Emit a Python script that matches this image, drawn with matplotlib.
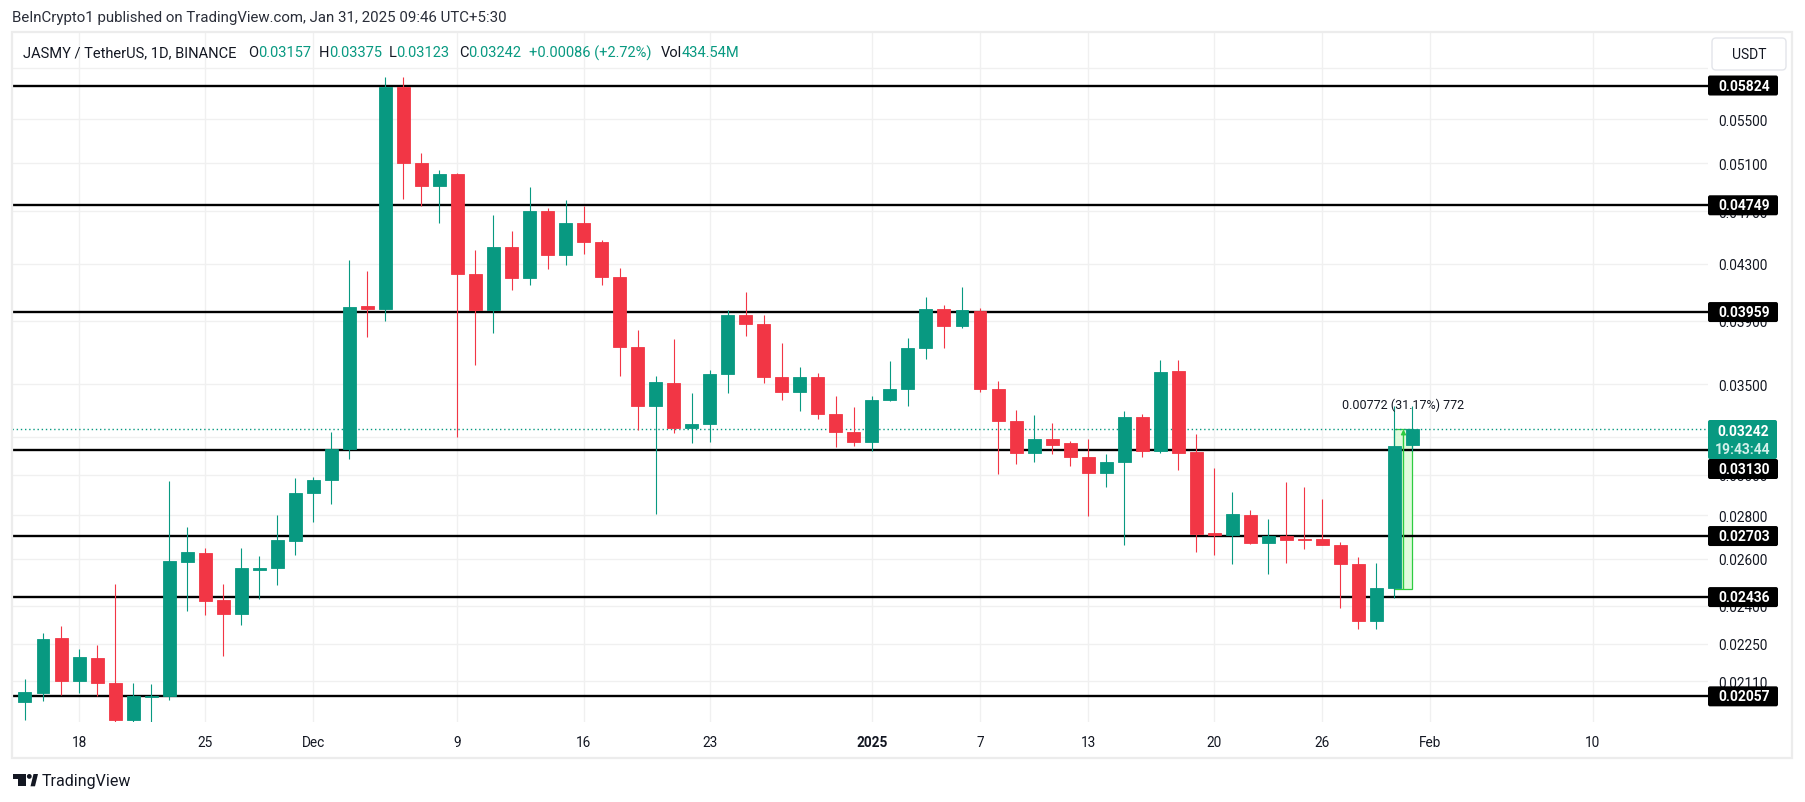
import numpy as np
import pandas as pd
import matplotlib
matplotlib.use("Agg")
import matplotlib.pyplot as plt
from matplotlib.patches import Rectangle, FancyBboxPatch, Polygon, Circle
from matplotlib.transforms import Affine2D
from matplotlib.ticker import NullLocator

plt.rcParams['font.family'] = ['Roboto', 'DejaVu Sans']

# ---------------- data ----------------
start_date = "2024-11-15"
opens = [0.02036, 0.02070, 0.02272, 0.02110, 0.02196, 0.02105, 0.01977, 0.02055, 0.02058, 0.02588,
         0.02625, 0.02423, 0.02368, 0.02551, 0.02560, 0.02682, 0.02909, 0.02972, 0.03136, 0.03998,
         0.03982, 0.05807, 0.05103, 0.04911, 0.05010, 0.04221, 0.03976, 0.04422, 0.04193, 0.04700,
         0.04361, 0.04609, 0.04458, 0.04205, 0.03728, 0.03372, 0.03509, 0.03252, 0.03272, 0.03564,
         0.03941, 0.03877, 0.03546, 0.03453, 0.03546, 0.03325, 0.03226, 0.03172, 0.03409, 0.03473,
         0.03726, 0.03982, 0.03868, 0.03965, 0.03473, 0.03291, 0.03116, 0.03190, 0.03165, 0.03091,
         0.03010, 0.03068, 0.03310, 0.03122, 0.03581, 0.03120, 0.02718, 0.02708, 0.02802, 0.02672,
         0.02704, 0.02690, 0.02688, 0.02663, 0.02578, 0.02340, 0.02475, 0.03157]
highs = [0.02120, 0.02291, 0.02318, 0.02229, 0.02244, 0.02491, 0.02106, 0.02101, 0.02968, 0.02746,
         0.02648, 0.02491, 0.02648, 0.02613, 0.02800, 0.02983, 0.02989, 0.03228, 0.04329, 0.04246,
         0.05907, 0.05907, 0.05191, 0.05043, 0.05015, 0.04402, 0.04670, 0.04544, 0.04900, 0.04725,
         0.04793, 0.04747, 0.04474, 0.04268, 0.03840, 0.03551, 0.03781, 0.03450, 0.03588, 0.03973,
         0.04098, 0.03941, 0.03756, 0.03606, 0.03569, 0.03432, 0.03370, 0.03432, 0.03643, 0.03789,
         0.04062, 0.04006, 0.04132, 0.03985, 0.03522, 0.03352, 0.03323, 0.03279, 0.03177, 0.03190,
         0.03109, 0.03347, 0.03330, 0.03649, 0.03649, 0.03217, 0.03036, 0.02916, 0.02825, 0.02783,
         0.02964, 0.02939, 0.02879, 0.02677, 0.02609, 0.02583, 0.03376, 0.03375]
lows = [0.01975, 0.02042, 0.02062, 0.02070, 0.02057, 0.01969, 0.01969, 0.01969, 0.02045, 0.02378,
        0.02364, 0.02205, 0.02323, 0.02429, 0.02487, 0.02616, 0.02768, 0.02854, 0.03084, 0.03795,
        0.03900, 0.04800, 0.04747, 0.04609, 0.03202, 0.03620, 0.03820, 0.04110, 0.04144, 0.04262,
        0.04293, 0.04367, 0.04144, 0.03551, 0.03240, 0.02805, 0.03221, 0.03165, 0.03175, 0.03447,
        0.03803, 0.03507, 0.03409, 0.03347, 0.03298, 0.03146, 0.03152, 0.03123, 0.03405, 0.03372,
        0.03657, 0.03726, 0.03850, 0.03455, 0.03005, 0.03057, 0.03068, 0.03107, 0.03048, 0.02795,
        0.02939, 0.02660, 0.03094, 0.03115, 0.03026, 0.02632, 0.02615, 0.02578, 0.02668, 0.02534,
        0.02583, 0.02645, 0.02660, 0.02392, 0.02308, 0.02308, 0.02433, 0.03123]
closes = [0.02074, 0.02267, 0.02110, 0.02201, 0.02103, 0.01977, 0.02057, 0.02058, 0.02591, 0.02629,
          0.02421, 0.02368, 0.02558, 0.02560, 0.02684, 0.02909, 0.02972, 0.03136, 0.03994, 0.03982,
          0.05807, 0.05103, 0.04911, 0.05010, 0.04221, 0.03976, 0.04422, 0.04193, 0.04700, 0.04361,
          0.04609, 0.04458, 0.04205, 0.03728, 0.03372, 0.03514, 0.03247, 0.03272, 0.03564, 0.03941,
          0.03877, 0.03546, 0.03453, 0.03546, 0.03325, 0.03226, 0.03172, 0.03409, 0.03473, 0.03726,
          0.03982, 0.03868, 0.03970, 0.03473, 0.03291, 0.03116, 0.03190, 0.03158, 0.03091, 0.03010,
          0.03068, 0.03310, 0.03123, 0.03575, 0.03115, 0.02713, 0.02708, 0.02807, 0.02672, 0.02704,
          0.02687, 0.02687, 0.02663, 0.02578, 0.02340, 0.02475, 0.03152, 0.03242]

level_prices = [0.05824, 0.04749, 0.03959, 0.03130, 0.02703, 0.02436, 0.02057]
level_labels = ["0.05824", "0.04749", "0.03959", "0.03130", "0.02703", "0.02436", "0.02057"]

ytick_values = [0.06000, 0.05500, 0.05100, 0.04700, 0.04300, 0.03900, 0.03500, 0.03200, 0.03000,
                0.02800, 0.02600, 0.02400, 0.02250, 0.02110]
ytick_labels = ["", "0.05500", "0.05100", "0.04700", "0.04300", "0.03900", "0.03500", "0.03200",
                "0.03000", "0.02800", "0.02600", "0.02400", "0.02250", "0.02110"]

xtick_dates = ["2024-11-18", "2024-11-25", "2024-12-01", "2024-12-09", "2024-12-16", "2024-12-23",
               "2025-01-01", "2025-01-07", "2025-01-13", "2025-01-20", "2025-01-26", "2025-02-01",
               "2025-02-10"]
xtick_labels = ["18", "25", "Dec", "9", "16", "23", "2025", "7", "13", "20", "26", "Feb", "10"]

last_price = 0.03242
range_low = 0.02470
range_text = "0.00772 (31.17%) 772"

# ---------------- styling ----------------
GREEN = "#089981"
RED = "#F23645"
TXT = "#131722"
GRID = "#f0f0f0"
W, H = 1805, 803

fig = plt.figure(figsize=(W / 100, H / 100), dpi=100)
fig.patch.set_facecolor("white")
PX = Affine2D().scale(1 / W, -1 / H).translate(0, 1) + fig.transFigure

ax = fig.add_axes([12 / W, 1 - 723 / H, (1708 - 12) / W, (723 - 33) / H])
ax.set_facecolor("white")
ax.set_yscale("log")
ax.set_ylim(0.01969, 0.06380)
ax.set_xlim(-0.72, 93.4)
for s in ax.spines.values():
    s.set_visible(False)

start = pd.Timestamp(start_date)
dates = pd.date_range(start, periods=len(opens), freq="D")
x = np.array([(d - start).days for d in dates], dtype=float)
o = np.array(opens); h = np.array(highs); l = np.array(lows); c = np.array(closes)
up = c >= o
cols = np.where(up, GREEN, RED)

# grid
xt = [(pd.Timestamp(d) - start).days for d in xtick_dates]
ax.set_xticks(xt)
ax.set_xticklabels(xtick_labels)
ax.set_yticks(ytick_values)
ax.set_yticklabels(ytick_labels)
ax.yaxis.set_minor_locator(NullLocator())
ax.grid(True, color=GRID, lw=1)
ax.set_axisbelow(True)
ax.yaxis.tick_right()
ax.tick_params(axis="y", length=0, pad=7.5, labelsize=9.8, labelcolor=TXT)
ax.tick_params(axis="x", length=0, pad=9.5, labelsize=9.8, labelcolor=TXT)
for lab in ax.get_xticklabels():
    if lab.get_text() == "2025":
        lab.set_fontweight("bold")

# measure tool (below candles)
n = len(opens)
ax.add_patch(Rectangle((x[n - 2], range_low), x[n - 1] - x[n - 2], last_price - range_low,
                       facecolor="#e0fbdc", edgecolor="#2ecc40", lw=0.9, zorder=1.5))

# level lines
for p in level_prices:
    ax.axhline(p, color="black", lw=1.7, zorder=2)

# candles
ax.vlines(x, l, h, colors=cols, lw=0.8, zorder=3)
bottoms = np.minimum(o, c)
heights = np.abs(c - o)
ax.bar(x, heights, bottom=bottoms, width=0.72, color=cols, edgecolor=cols, lw=0.6, zorder=4)

# measure arrow + text
mid = (x[n - 2] + x[n - 1]) / 2
ax.annotate("", xy=(mid, last_price), xytext=(mid, range_low),
            arrowprops=dict(arrowstyle="-|>", color="#2ecc40", lw=1.0, mutation_scale=7,
                            shrinkA=0, shrinkB=0), zorder=5)
ax.text(mid, 0.03386, range_text, ha="center", va="center", fontsize=9, color=TXT, zorder=6)

# last price dotted line
ax.axhline(last_price, color=GREEN, lw=1.0, ls=(0, (1, 2)), zorder=2.5)


def ypx(p):
    return H - ax.transData.transform((0, p))[1]


# price-axis label boxes
for p, lab in zip(level_prices, level_labels):
    yc = ypx(p)
    if lab == "0.03130":
        yc = 470
    fig.add_artist(FancyBboxPatch((1708, yc - 10), 70, 20, boxstyle="round,pad=0,rounding_size=2",
                                  transform=PX, facecolor="black", edgecolor="none", zorder=5))
    fig.text(1744, yc, lab, transform=PX, ha="center", va="center", color="white",
             fontweight="bold", fontsize=10, zorder=6)

# current price box
fig.add_artist(FancyBboxPatch((1708, 421), 69, 39, boxstyle="round,pad=0,rounding_size=2",
                              transform=PX, facecolor=GREEN, edgecolor="none", zorder=5))
fig.text(1743, 432, "0.03242", transform=PX, ha="center", va="center", color="white",
         fontweight="bold", fontsize=10, zorder=6)
fig.text(1743, 450, "19:43:44", transform=PX, ha="center", va="center", color="#d2f0ea",
         fontweight="bold", fontsize=10, zorder=6)

# USDT box
fig.add_artist(FancyBboxPatch((1712, 39), 74, 32, boxstyle="round,pad=0,rounding_size=4",
                              transform=PX, facecolor="white", edgecolor="#e3e5ea", lw=1, zorder=5))
fig.text(1749, 55, "USDT", transform=PX, ha="center", va="center", color=TXT, fontsize=10, zorder=6)

# frame
fig.add_artist(Rectangle((12, 33), 1780, 726, transform=PX, facecolor="none",
                         edgecolor="#ececec", lw=1.6, zorder=4))

# title & header
renderer = fig.canvas.get_renderer()
fig.text(12, 18, "BeInCrypto1 published on TradingView.com, Jan 31, 2025 09:46 UTC+5:30",
         transform=PX, ha="left", va="center", color="#2a2e39", fontsize=10.8)


def put(xp, yp, s, color, **kw):
    t = fig.text(xp, yp, s, transform=PX, ha="left", va="center", color=color, fontsize=10.5, **kw)
    bb = t.get_window_extent(renderer)
    return xp + bb.width


HY = 53
put(23, HY, "JASMY / TetherUS, 1D, BINANCE", TXT)
for xp, k, v in [(248, "O", "0.03157"), (318.6, "H", "0.03375"), (388.6, "L", "0.03123"),
                 (459, "C", "0.03242")]:
    e = put(xp, HY, k, TXT)
    put(e, HY, v, GREEN)
put(529, HY, "+0.00086 (+2.72%)", GREEN)
e = put(661, HY, "Vol", TXT)
put(e, HY, "434.54M", GREEN)

# TradingView logo
fig.add_artist(Polygon([(12.7, 775), (26, 775), (26, 787.3), (18.3, 787.3), (18.3, 779.7), (12.7, 779.7)],
                       closed=True, transform=PX, facecolor=TXT, edgecolor="none"))
fig.add_artist(Circle((29.3, 777.4), 2.4, transform=PX, facecolor=TXT, edgecolor="none"))
fig.add_artist(Polygon([(30.5, 787.3), (35, 787.3), (38, 775), (33.5, 775)], closed=True,
                       transform=PX, facecolor=TXT, edgecolor="none"))
fig.text(42, 781.5, "TradingView", transform=PX, ha="left", va="center", color=TXT, fontsize=11.5)

fig.savefig("out.png", dpi=100, facecolor="white")
